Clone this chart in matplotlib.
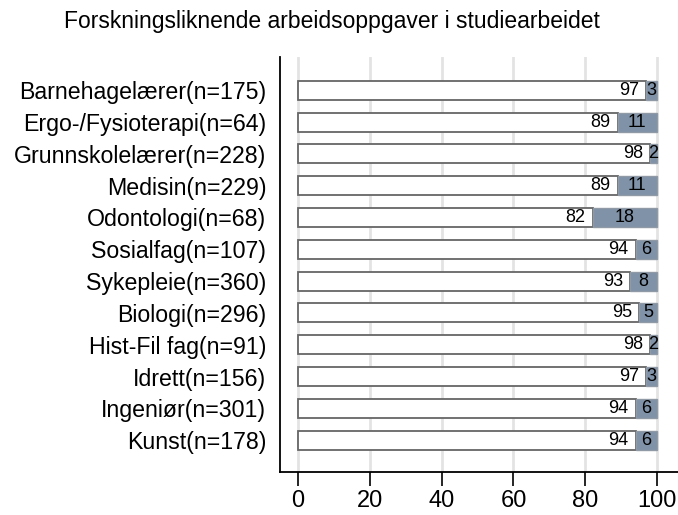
import numpy as np
import matplotlib.pyplot as plt

plt.rcParams['font.family'] = ['Liberation Sans', 'DejaVu Sans']

# data
groups = ['Barnehagelærer(n=175)', 'Ergo-/Fysioterapi(n=64)', 'Grunnskolelærer(n=228)',
          'Medisin(n=229)', 'Odontologi(n=68)', 'Sosialfag(n=107)', 'Sykepleie(n=360)',
          'Biologi(n=296)', 'Hist-Fil fag(n=91)', 'Idrett(n=156)', 'Ingeniør(n=301)',
          'Kunst(n=178)']
nei = [97, 89, 98, 89, 82, 94, 92.5, 95, 98, 97, 94, 94]
ja = [3, 11, 2, 11, 18, 6, 7.5, 5, 2, 3, 6, 6]
# printed (rounded) labels
nei_lbl = ['97', '89', '98', '89', '82', '94', '93', '95', '98', '97', '94', '94']
ja_lbl = ['3', '11', '2', '11', '18', '6', '8', '5', '2', '3', '6', '6']

fig = plt.figure(figsize=(6.78, 5.15), dpi=100)
ax = fig.add_axes([0.413, 0.0835, 0.587, 0.8055])

y = np.arange(len(groups))
ax.barh(y, nei, height=0.6, color='white', edgecolor='#666666', linewidth=1.3, zorder=3)
ax.barh(y, ja, left=nei, height=0.6, color='#7f92a8', edgecolor='#8f9aa6',
        linewidth=1.0, zorder=3)

# value labels
for i in range(len(groups)):
    ax.annotate(nei_lbl[i], (nei[i], y[i]), xytext=(-5, 0), textcoords='offset points',
                ha='right', va='center', fontsize=13, zorder=4)
    ax.text(nei[i] + ja[i] / 2, y[i], ja_lbl[i], ha='center', va='center',
            fontsize=13, zorder=4)

ax.set_xlim(-5, 105.8)
ax.set_ylim(12.0, -1.04)
ax.set_xticks([0, 20, 40, 60, 80, 100])
ax.set_yticks(y)
ax.set_yticklabels(groups, fontsize=16.7)
ax.tick_params(axis='x', labelsize=17, length=10, width=1.2, direction='out', pad=3)
ax.tick_params(axis='y', length=0, pad=10)
ax.grid(axis='x', color='#e3e3e3', linewidth=2, zorder=0)
for s in ['top', 'right']:
    ax.spines[s].set_visible(False)
ax.spines['left'].set_linewidth(1.3)
ax.spines['bottom'].set_linewidth(1.3)

fig.text(0.49, 0.958, 'Forskningsliknende arbeidsoppgaver i studiearbeidet',
         ha='center', va='center', fontsize=16.5)

fig.savefig('out.png', dpi=100)
